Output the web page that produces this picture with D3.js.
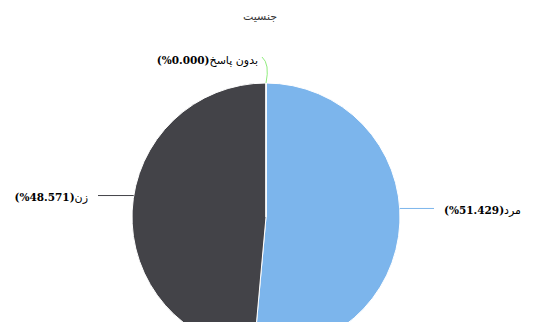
<!DOCTYPE html>
<html>
<head>
<meta charset="utf-8">
<script src="https://cdn.jsdelivr.net/npm/d3@7"></script>
<style>
  html, body { margin: 0; padding: 0; background: #fff; }
  svg { display: block; }
</style>
</head>
<body>
<script>
// Gender breakdown of respondents
const title = "جنسیت";
const categories = ["مرد", "زن", "بدون پاسخ"];
const shares = [51.429, 48.571, 0.000];
const colors = ["#7cb5ec", "#434348", "#90ed7d"];

const W = 544, H = 322;
const cx = 266, cy = 217, r = 134;

const svg = d3.select("body").append("svg")
  .attr("width", W).attr("height", H);

svg.append("text")
  .attr("x", 260).attr("y", 20)
  .attr("text-anchor", "middle")
  .attr("font-family", "DejaVu Sans, sans-serif")
  .attr("font-size", 11)
  .attr("fill", "#333")
  .text(title);

const data = categories.map((c, i) => ({ name: c, value: shares[i], color: colors[i] }));

const pie = d3.pie().sort(null).value(d => d.value)
  .startAngle(0).endAngle(2 * Math.PI);
const arcs = pie(data);
const arc = d3.arc().innerRadius(0).outerRadius(r);

const g = svg.append("g").attr("transform", `translate(${cx},${cy})`);

g.selectAll("path.slice")
  .data(arcs)
  .join("path")
  .attr("class", "slice")
  .attr("d", arc)
  .attr("fill", d => d.data.color)
  .attr("stroke", "#fff")
  .attr("stroke-width", 1)
  .attr("stroke-linejoin", "round");

const fmt = d3.format(".3f");

arcs.forEach(d => {
  const a = (d.startAngle + d.endAngle) / 2;
  const s = Math.sin(a), c = Math.cos(a);
  const onTop = Math.abs(s) < 0.2;
  const right = s > 0 && !onTop;
  const ly = -(r + 10) * c - 15;
  let lx, sx, path;
  if (onTop) {
    lx = -8;
    sx = lx + 4;
    const ex = r * s, ey = -r * c;
    path = `M${sx},${ly - 1} Q${ex + 4},${ly + 6} ${ex},${ey}`;
  } else {
    lx = (right ? 1 : -1) * (r + 44);
    sx = lx + (right ? -10 : 10);
    const ex = (right ? 1 : -1) * Math.sqrt(r * r - ly * ly);
    path = `M${sx},${ly} L${ex},${ly}`;
  }
  g.append("path")
    .attr("d", path)
    .attr("fill", "none")
    .attr("stroke", d.data.color)
    .attr("stroke-width", 1);

  const t = g.append("text")
    .attr("x", lx).attr("y", ly)
    .attr("dy", "0.35em")
    .attr("text-anchor", right ? "start" : "end")
    .attr("fill", "#000");
  t.append("tspan")
    .attr("font-family", "DejaVu Serif, serif")
    .attr("font-size", 10.5)
    .attr("font-weight", "bold")
    .text(`(%${fmt(d.data.value)})`);
  t.append("tspan")
    .attr("font-family", "DejaVu Sans, sans-serif")
    .attr("font-size", 11)
    .text(d.data.name);
});
</script>
</body>
</html>
